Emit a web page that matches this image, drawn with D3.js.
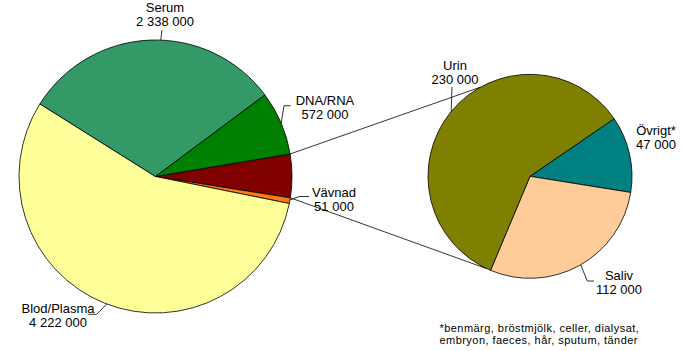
<!DOCTYPE html>
<html>
<head>
<meta charset="utf-8">
<script src="https://cdn.jsdelivr.net/npm/d3@7"></script>
<style>
  body { margin: 0; background: #fff; }
  svg { display: block; font-family: "Liberation Sans", Arial, sans-serif; }
  .lbl { font-size: 13px; fill: #000; }
  .note { font-size: 11px; letter-spacing: 0.45px; fill: #000; }
</style>
</head>
<body>
<svg id="chart" width="687" height="351"></svg>
<script>
// main pie (the first slice is the group that is split out to the right)
var mainNames = ['', 'Vävnad', 'Blod/Plasma', 'Serum', 'DNA/RNA'];
var mainValues = [null, 51000, 4222000, 2338000, 572000];
var mainColors = ['#800000', '#ff7a10', '#ffff99', '#339966', '#008000'];

// secondary pie
var subNames = ['Övrigt*', 'Saliv', 'Urin'];
var subValues = [47000, 112000, 230000];
var subColors = ['#008080', '#ffcc99', '#808000'];

var footnote = ['*benmärg, bröstmjölk, celler, dialysat,', 'embryon, faeces, hår, sputum, tänder'];

mainValues[0] = d3.sum(subValues);

var fmt = function(v) { return d3.format(',')(v).replace(/,/g, ' '); };
var deg = Math.PI / 180;

var svg = d3.select('#chart');

var c1 = {x: 155.5, y: 176.5, r: 136.5};
var c2 = {x: 530, y: 176.3, r: 102};

var pie1 = d3.pie().sort(null).value(function(d) { return d; })
  .startAngle(80.5 * deg).endAngle(80.5 * deg + 2 * Math.PI);
var pie2 = d3.pie().sort(null).value(function(d) { return d; })
  .startAngle(55.6 * deg).endAngle(55.6 * deg + 2 * Math.PI);

var arcs1 = pie1(mainValues);
var arcs2 = pie2(subValues);

var arc1 = d3.arc().innerRadius(0).outerRadius(c1.r);
var arc2 = d3.arc().innerRadius(0).outerRadius(c2.r);

var edge = function(c, a) { return [c.x + c.r * Math.sin(a), c.y - c.r * Math.cos(a)]; };

var g1 = svg.append('g').attr('transform', 'translate(' + c1.x + ',' + c1.y + ')');
g1.selectAll('path').data(arcs1).enter().append('path')
  .attr('d', arc1)
  .attr('fill', function(d, i) { return mainColors[i]; })
  .attr('stroke', '#000').attr('stroke-width', 0.8).attr('stroke-linejoin', 'round');

var g2 = svg.append('g').attr('transform', 'translate(' + c2.x + ',' + c2.y + ')');
g2.selectAll('path').data(arcs2).enter().append('path')
  .attr('d', arc2)
  .attr('fill', function(d, i) { return subColors[i]; })
  .attr('stroke', '#000').attr('stroke-width', 0.8).attr('stroke-linejoin', 'round');

// connector lines from the split slice to the secondary pie
var grp = arcs1[0];
var conn = [[edge(c1, grp.startAngle), edge(c2, 330.8 * deg)],
            [edge(c1, grp.endAngle), edge(c2, 205.2 * deg)]];
svg.selectAll('line.conn').data(conn).enter().append('line')
  .attr('class', 'conn')
  .attr('x1', function(d) { return d[0][0]; }).attr('y1', function(d) { return d[0][1]; })
  .attr('x2', function(d) { return d[1][0]; }).attr('y2', function(d) { return d[1][1]; })
  .attr('stroke', '#000').attr('stroke-width', 0.8);

// label placement: text centre and leader (edge angle + bend points)
var labels = [
  {pie: c1, name: mainNames[3], value: mainValues[3], x: 165, y: 14.5, lead: 2.2, pts: [[162, 30]]},
  {pie: c1, name: mainNames[4], value: mainValues[4], x: 325, y: 107, lead: 67, pts: [[284, 105.7], [290.7, 105.7]]},
  {pie: c1, name: mainNames[1], value: mainValues[1], x: 334, y: 199, lead: 99.9, pts: [[299, 196.5], [309, 196.5]]},
  {pie: c1, name: mainNames[2], value: mainValues[2], x: 58, y: 315.5, lead: 200.9, pts: [[96.7, 314.3], [88.3, 314.3]]},
  {pie: c2, name: subNames[2], value: subValues[2], x: 455, y: 72, lead: 309.4, pts: [[452, 87]]},
  {pie: c2, name: subNames[0], value: subValues[0], x: 656, y: 137, lead: null, pts: []},
  {pie: c2, name: subNames[1], value: subValues[1], x: 619, y: 282, lead: 150.2, pts: [[587.3, 281], [594, 281]]}
];

labels.forEach(function(l) {
  if (l.lead !== null) {
    var p = [edge(l.pie, l.lead * deg)].concat(l.pts);
    svg.append('path')
      .attr('d', d3.line()(p))
      .attr('fill', 'none').attr('stroke', '#000').attr('stroke-width', 0.8);
  }
  var t = svg.append('text').attr('class', 'lbl').attr('text-anchor', 'middle');
  t.append('tspan').attr('x', l.x).attr('y', l.y - 7 + 4.5).text(l.name);
  t.append('tspan').attr('x', l.x).attr('y', l.y + 7 + 4.5).text(fmt(l.value));
});

svg.append('text').attr('class', 'note')
  .selectAll('tspan').data(footnote).enter().append('tspan')
  .attr('x', 439.5)
  .attr('y', function(d, i) { return 331.5 + i * 12.6; })
  .text(function(d) { return d; });
</script>
</body>
</html>
